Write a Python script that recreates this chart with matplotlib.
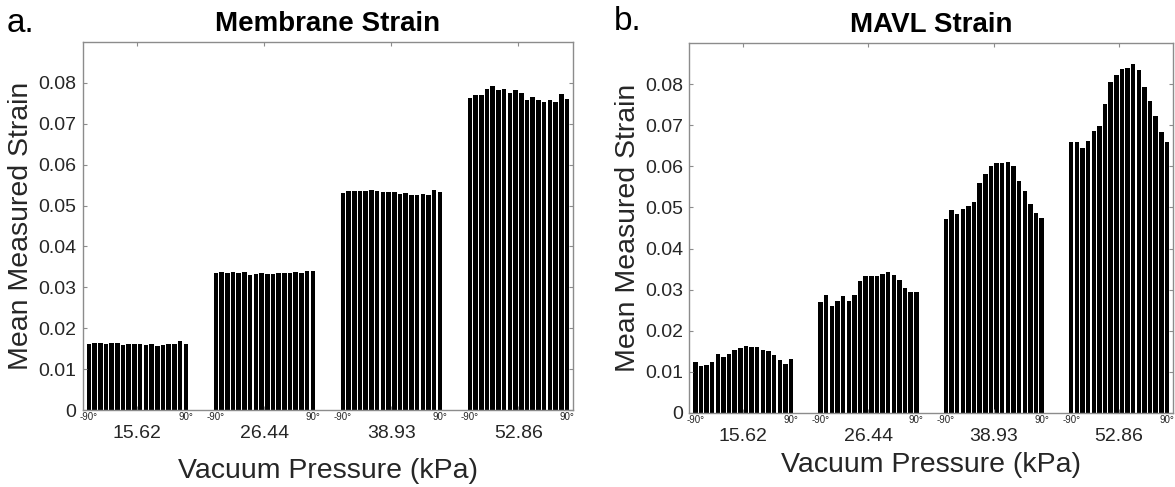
import numpy as np
import matplotlib.pyplot as plt

plt.rcParams['font.family'] = ['Liberation Sans', 'DejaVu Sans']

pressures = ['15.62', '26.44', '38.93', '52.86']
angle_labels = ['-90°', '90°']

# membrane strain, one list per vacuum pressure (-90° .. 90°)
mem_1562 = [0.0161, 0.0164, 0.0163, 0.0161, 0.0164, 0.0164, 0.0160, 0.0161, 0.0161,
            0.0161, 0.0160, 0.0161, 0.0156, 0.0158, 0.0161, 0.0161, 0.0169, 0.0161]
mem_2644 = [0.0336, 0.0337, 0.0334, 0.0337, 0.0334, 0.0337, 0.0331, 0.0332, 0.0334,
            0.0332, 0.0332, 0.0336, 0.0334, 0.0336, 0.0337, 0.0336, 0.0341, 0.0339]
mem_3893 = [0.0531, 0.0535, 0.0535, 0.0535, 0.0536, 0.0538, 0.0535, 0.0532, 0.0532,
            0.0532, 0.0529, 0.0530, 0.0527, 0.0526, 0.0528, 0.0527, 0.0539, 0.0532]
mem_5286 = [0.0764, 0.0771, 0.0771, 0.0786, 0.0792, 0.0783, 0.0786, 0.0776, 0.0783,
            0.0775, 0.0759, 0.0766, 0.0759, 0.0754, 0.0759, 0.0753, 0.0773, 0.0761]

# MAVL strain
mavl_1562 = [0.0124, 0.0115, 0.0116, 0.0124, 0.0144, 0.0137, 0.0144, 0.0152, 0.0158,
             0.0163, 0.0160, 0.0160, 0.0154, 0.0150, 0.0142, 0.0128, 0.0120, 0.0131]
mavl_2644 = [0.0270, 0.0286, 0.0260, 0.0272, 0.0284, 0.0272, 0.0286, 0.0322, 0.0334,
             0.0334, 0.0334, 0.0339, 0.0344, 0.0335, 0.0323, 0.0303, 0.0294, 0.0294]
mavl_3893 = [0.0473, 0.0493, 0.0485, 0.0496, 0.0503, 0.0513, 0.0560, 0.0582, 0.0602,
             0.0609, 0.0609, 0.0611, 0.0600, 0.0565, 0.0541, 0.0508, 0.0487, 0.0475]
mavl_5286 = [0.0660, 0.0660, 0.0645, 0.0662, 0.0687, 0.0699, 0.0752, 0.0804, 0.0823,
             0.0836, 0.0840, 0.0850, 0.0834, 0.0792, 0.0758, 0.0722, 0.0684, 0.0659]

yticks = [0, 0.01, 0.02, 0.03, 0.04, 0.05, 0.06, 0.07, 0.08]
ytick_labels = ['0', '0.01', '0.02', '0.03', '0.04', '0.05', '0.06', '0.07', '0.08']

spine_col = '#8c8c8c'
text_col = '#262626'


def draw_panel(ax, groups, title, xlabel_pad):
    for g, vals in enumerate(groups):
        n = len(vals)
        slot = 0.8 / (n - 1 + 0.8)
        xs = (g + 1) + (np.arange(n) - (n - 1) / 2) * slot
        ax.bar(xs, vals, width=0.8 * slot, color='black', linewidth=0)
        for x, lab in zip([xs[0], xs[-1]], angle_labels):
            ax.annotate(lab, xy=(x, 0), xycoords=('data', 'axes fraction'),
                        xytext=(0, -1.5), textcoords='offset points',
                        ha='center', va='top', fontsize=7, color=text_col)
    ax.set_xlim(0.57, 4.43)
    ax.set_ylim(0, 0.09)
    ax.set_xticks(range(1, len(groups) + 1))
    ax.set_xticklabels(pressures, fontsize=14, color=text_col)
    ax.set_yticks(yticks)
    ax.set_yticklabels(ytick_labels, fontsize=14, color=text_col)
    ax.tick_params(axis='both', direction='in', top=True, right=True,
                   length=3, color=spine_col, width=0.8)
    ax.tick_params(axis='x', pad=11)
    ax.tick_params(axis='y', pad=4.5)
    for s in ax.spines.values():
        s.set_color(spine_col)
        s.set_linewidth(1)
    ax.set_xlabel('Vacuum Pressure (kPa)', fontsize=20.5, color=text_col,
                  labelpad=xlabel_pad)
    ax.set_ylabel('Mean Measured Strain', fontsize=20.5, color=text_col, labelpad=3)
    ax.set_title(title, fontsize=20, fontweight='bold', color='black', pad=8)


fig = plt.figure(figsize=(11.75, 4.87), dpi=100)
ax1 = fig.add_axes([0.0704, 0.1581, 0.4173, 0.7557])
ax2 = fig.add_axes([0.5866, 0.1520, 0.4117, 0.7597])

draw_panel(ax1, [mem_1562, mem_2644, mem_3893, mem_5286], 'Membrane Strain', 11)
draw_panel(ax2, [mavl_1562, mavl_2644, mavl_3893, mavl_5286], 'MAVL Strain', 5)

fig.text(0.006, 1 - 32 / 487, 'a.', fontsize=24, ha='left', va='baseline')
fig.text(0.522, 1 - 30 / 487, 'b.', fontsize=24, ha='left', va='baseline')

fig.savefig('out.png', dpi=100)
